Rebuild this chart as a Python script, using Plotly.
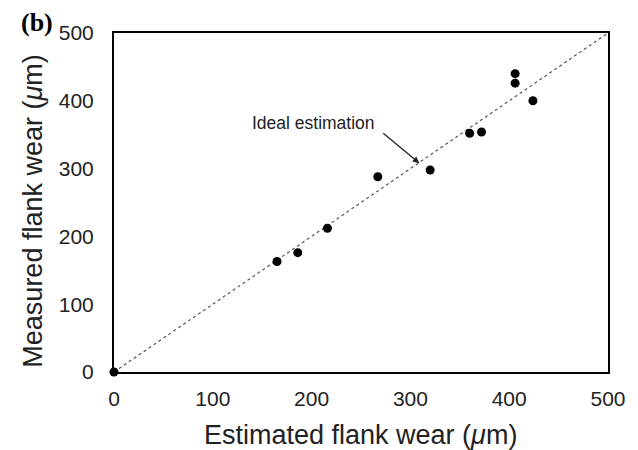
import plotly.graph_objects as go

estimated = [0, 165, 186, 216, 267, 320, 360, 372, 406, 406, 424]
measured = [0, 163, 176, 212, 288, 298, 352, 354, 440, 426, 400]
ideal = [0, 500]
ticks = [0, 100, 200, 300, 400, 500]

fig = go.Figure()
fig.add_trace(go.Scatter(x=ideal, y=ideal, mode="lines",
                         line=dict(color="#555555", width=1.2, dash="dot"),
                         showlegend=False, hoverinfo="skip"))
fig.add_trace(go.Scatter(x=estimated, y=measured, mode="markers",
                         marker=dict(color="black", size=9),
                         showlegend=False, cliponaxis=False))

font = "Liberation Sans, Arial, sans-serif"
L, R, T, B = 114, 26, 33, 78
W, H = 638 - L - R, 450 - T - B


def px(xp):
    return (xp - L) / W


def py(yp):
    return (450 - B - yp) / H


fig.update_layout(
    width=638, height=450,
    margin=dict(l=L, r=R, t=T, b=B),
    paper_bgcolor="white", plot_bgcolor="white",
    font=dict(family=font, color="#222222"),
    xaxis=dict(range=[0, 500], tickvals=ticks, showgrid=False, zeroline=False,
               showline=True, linecolor="black", linewidth=2, mirror=True,
               ticks="", tickfont=dict(size=21), ticklabelstandoff=7),
    yaxis=dict(range=[0, 500], tickvals=ticks, showgrid=False, zeroline=False,
               showline=True, linecolor="black", linewidth=2, mirror=True,
               ticks="", tickfont=dict(size=21), ticklabelstandoff=14),
    annotations=[
        dict(x=309, y=308, ax=271, ay=354, xref="x", yref="y", axref="x", ayref="y",
             text="", showarrow=True, arrowhead=2, arrowsize=1, arrowwidth=1.3,
             arrowcolor="#222222"),
        dict(x=202, y=367, xref="x", yref="y", text="Ideal estimation",
             showarrow=False, font=dict(size=17.5, color="#222222")),
        dict(x=px(362), y=py(435), xref="paper", yref="paper",
             text="Estimated flank wear (<i>μ</i>m)", showarrow=False,
             font=dict(size=27, color="#222222"), xanchor="center", yanchor="middle"),
        dict(x=px(32), y=py(211), xref="paper", yref="paper",
             text="Measured flank wear (<i>μ</i>m)", showarrow=False, textangle=-90,
             font=dict(size=27, color="#222222"), xanchor="center", yanchor="middle"),
        dict(x=px(18), y=py(22), xref="paper", yref="paper", text="<b>(b)</b>",
             showarrow=False, font=dict(size=26, family="Liberation Serif, Times New Roman, serif", color="black"),
             xanchor="left", yanchor="middle"),
    ],
)
fig.write_html("out.html")
